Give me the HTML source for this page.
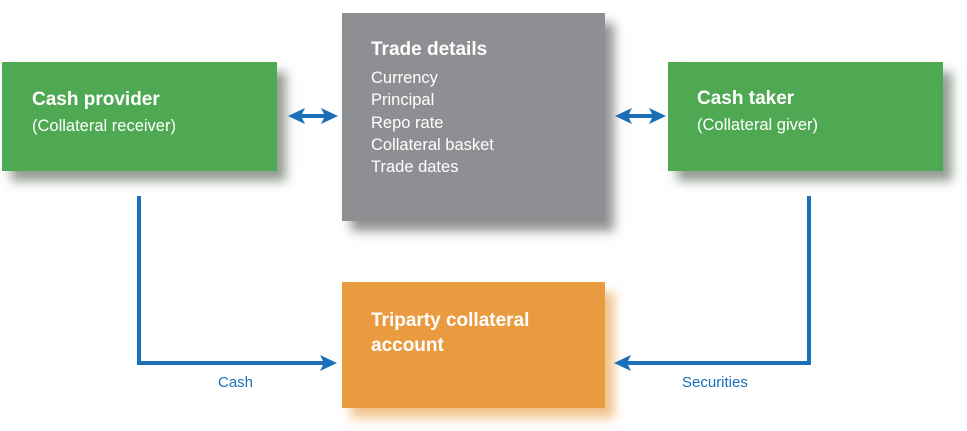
<!DOCTYPE html>
<html><head><meta charset="utf-8"><style>
body{margin:0;width:967px;height:431px;background:#fff;position:relative;overflow:hidden;font-family:"Liberation Sans",Arial,sans-serif}
.b{position:absolute;color:#fff;box-sizing:border-box}
.g{background:#4ea952;box-shadow:9px 10px 10px rgba(40,60,40,.5)}
.gr{background:#8e8f92;box-shadow:9px 10px 10px rgba(40,40,40,.5)}
.o{background:#ea9b3f;box-shadow:9px 10px 10px rgba(234,155,63,.6)}
.t{font-weight:bold;font-size:19px}
.s{font-size:16.5px}
.l{position:absolute;color:#1a6fb8;font-size:15px}
</style></head><body>
<div class="b g" style="left:2px;top:62px;width:275px;height:109px;padding:27px 0 0 30px"><div class="t">Cash provider</div><div class="s" style="margin-top:6px">(Collateral receiver)</div></div>
<div class="b gr" style="left:342px;top:13px;width:263px;height:208px;padding:26px 0 0 29px"><div class="t" style="margin-bottom:6px">Trade details</div><div class="s" style="line-height:22.3px">Currency<br>Principal<br>Repo rate<br>Collateral basket<br>Trade dates</div></div>
<div class="b g" style="left:668px;top:62px;width:275px;height:109px;padding:26px 0 0 29px"><div class="t">Cash taker</div><div class="s" style="margin-top:6px">(Collateral giver)</div></div>
<div class="b o" style="left:342px;top:282px;width:263px;height:126px;padding:26px 0 0 29px"><div class="t" style="line-height:25px">Triparty collateral<br>account</div></div>
<svg width="967" height="431" style="position:absolute;left:0;top:0">
<g fill="none" stroke="#1a6fb8" stroke-width="4">
<polyline points="139,196 139,363 325,363"/>
<polyline points="809,196 809,363 623,363"/>
<line x1="296" y1="116" x2="330" y2="116"/>
<line x1="623" y1="116" x2="658" y2="116"/>
</g>
<g fill="#1a6fb8">
<polygon points="337,363 320,355 324,363 320,371"/>
<polygon points="614,363 631,355 627,363 631,371"/>
<polygon points="288,116 305,108 301,116 305,124"/>
<polygon points="338,116 321,108 325,116 321,124"/>
<polygon points="615,116 632,108 628,116 632,124"/>
<polygon points="666,116 649,108 653,116 649,124"/>
</g>
</svg>
<div class="l" style="left:218px;top:374px">Cash</div>
<div class="l" style="left:682px;top:374px">Securities</div>
</body></html>
